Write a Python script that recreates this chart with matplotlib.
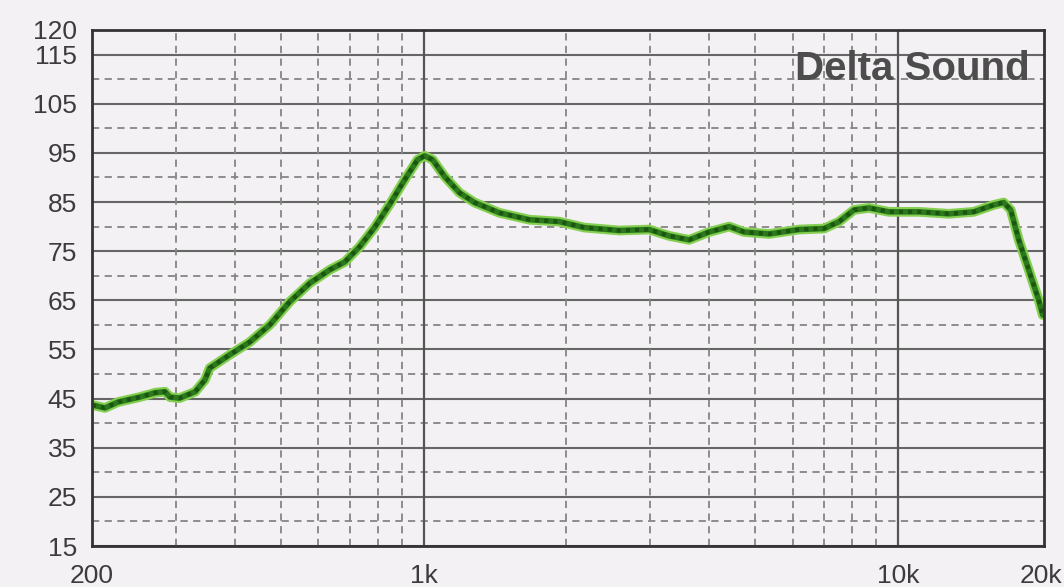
import numpy as np
import matplotlib.pyplot as plt
from matplotlib.ticker import FixedLocator, NullFormatter

# frequency response (Hz, dB)
freq = [200, 213, 227, 252, 272, 285, 292, 306, 330, 346, 354, 390, 430, 474,
        522, 576, 634, 682, 733, 788, 848, 912, 971, 1005, 1045, 1107, 1190,
        1280, 1445, 1671, 1933, 2182, 2586, 2989, 3295, 3630, 4000, 4408,
        4740, 5352, 6188, 6988, 7515, 8080, 8690, 9570, 11070, 12800, 14450,
        15920, 16710, 17290, 17980, 18870, 19800, 20200]
spl = [43.7, 43.1, 44.3, 45.3, 46.2, 46.4, 45.3, 45.1, 46.4, 48.8, 51.2, 53.9,
       56.5, 60.0, 64.7, 68.5, 71.2, 72.8, 75.9, 79.8, 84.5, 89.5, 93.6, 94.4,
       93.6, 90.2, 86.9, 84.9, 82.8, 81.4, 81.0, 79.8, 79.2, 79.4, 78.1, 77.3,
       78.9, 80.0, 78.9, 78.5, 79.4, 79.6, 81.0, 83.4, 83.8, 83.0, 83.0, 82.6,
       83.0, 84.4, 84.9, 83.4, 77.3, 71.2, 65.1, 62.0]

ytick_vals = [15, 25, 35, 45, 55, 65, 75, 85, 95, 105, 115, 120]
xtick_vals = [200, 1000, 10000, 20000]
xtick_text = ['200', '1k', '10k', '20k']

bg = '#f3f1f3'
fig = plt.figure(figsize=(10.64, 5.87), dpi=100, facecolor=bg)
ax = fig.add_axes([0.0865, 0.0698, 0.8945, 0.8791], facecolor=bg)

ax.set_xscale('log')
ax.set_xlim(200, 20300)
ax.set_ylim(15, 120)

# grid: every 5 dB, every integer multiple in frequency
for v in range(15, 121, 5):
    if (v - 15) % 10 == 0:
        ax.axhline(v, color='#666666', lw=1.5, zorder=1)
    else:
        ax.axhline(v, color='#858585', lw=1.3, ls=(0, (4, 3)), zorder=1)
grid_f = [m * 10 ** e for e in (2, 3, 4) for m in range(1, 10)]
for f in grid_f:
    if f <= 200 or f >= 20000:
        continue
    if f in (1000, 10000):
        ax.axvline(f, color='#555555', lw=1.6, zorder=1)
    else:
        ax.axvline(f, color='#858585', lw=1.3, ls=(0, (4, 3)), zorder=1)

# the response curve
ax.plot(freq, spl, color='#86cf52', lw=7, solid_capstyle='round', zorder=3)
ax.plot(freq, spl, color='#2a7a1c', lw=4, solid_capstyle='round', zorder=4)
ax.plot(freq, spl, color='#1d5412', lw=3, ls=(0, (1, 1.2)), zorder=5)

ax.yaxis.set_major_locator(FixedLocator(ytick_vals))
ax.set_yticklabels([str(v) for v in ytick_vals])
ax.xaxis.set_major_locator(FixedLocator(xtick_vals))
ax.xaxis.set_minor_formatter(NullFormatter())
ax.set_xticks([], minor=True)
ax.set_xticklabels(xtick_text)
ax.tick_params(axis='both', length=0, labelsize=19, labelcolor='#3c3c3c')
ax.tick_params(axis='y', pad=11)
ax.tick_params(axis='x', pad=13)
for lab in ax.get_xticklabels() + ax.get_yticklabels():
    lab.set_fontfamily('Liberation Sans')

for s in ax.spines.values():
    s.set_color('#333333')
    s.set_linewidth(2)
    s.set_zorder(6)

ax.text(0.985, 0.925, 'Delta Sound', transform=ax.transAxes, ha='right',
        va='center', fontsize=29, fontweight='bold', color='#4d4d4d',
        family='Liberation Sans', zorder=7)

fig.savefig('out.png', dpi=100, facecolor=bg)
